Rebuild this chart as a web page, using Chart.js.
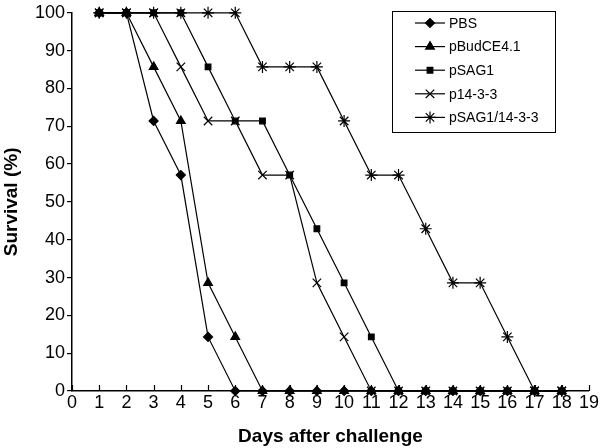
<!DOCTYPE html>
<html>
<head>
<meta charset="utf-8">
<script src="https://cdn.jsdelivr.net/npm/chart.js@4/dist/chart.umd.min.js"></script>
<style>
  html, body { margin: 0; padding: 0; background: #fff; }
  #wrap { width: 600px; height: 448px; }
</style>
</head>
<body>
<div id="wrap"><canvas id="chart"></canvas></div>
<script>
// days after challenge
const days = [1, 2, 3, 4, 5, 6, 7, 8, 9, 10, 11, 12, 13, 14, 15, 16, 17, 18];

// survival (%) per group
const pbs      = [100, 100, 71.4, 57.1, 14.3, 0, 0, 0, 0, 0, 0, 0, 0, 0, 0, 0, 0, 0];
const pbud     = [100, 100, 85.7, 71.4, 28.6, 14.3, 0, 0, 0, 0, 0, 0, 0, 0, 0, 0, 0, 0];
const psag1    = [100, 100, 100, 100, 85.7, 71.4, 71.4, 57.1, 42.9, 28.6, 14.3, 0, 0, 0, 0, 0, 0, 0];
const p1433    = [100, 100, 100, 85.7, 71.4, 71.4, 57.1, 57.1, 28.6, 14.3, 0, 0, 0, 0, 0, 0, 0, 0];
const psag1433 = [100, 100, 100, 100, 100, 100, 85.7, 85.7, 85.7, 71.4, 57.1, 57.1, 42.9, 28.6, 28.6, 14.3, 0, 0];

const labels = ["PBS", "pBudCE4.1", "pSAG1", "p14-3-3", "pSAG1/14-3-3"];
const series = [pbs, pbud, psag1, p1433, psag1433];
const markers = ["rectRot", "triangle", "rect", "crossRot", "star"];
const radii = [4.5, 5, 4, 6, 6];

const yTicks = [0, 10, 20, 30, 40, 50, 60, 70, 80, 90, 100];
const xTicks = [0, 1, 2, 3, 4, 5, 6, 7, 8, 9, 10, 11, 12, 13, 14, 15, 16, 17, 18, 19];

const FONT = "'Liberation Sans', Arial, sans-serif";

function pts(vals) {
  return days.map((d, i) => ({ x: d, y: vals[i] }));
}

const datasets = series.map((s, i) => ({
  label: labels[i],
  data: pts(s),
  borderColor: "#000",
  backgroundColor: "#000",
  borderWidth: 1.2,
  pointStyle: markers[i],
  pointRadius: radii[i],
  pointBorderWidth: 1.2,
  pointBorderColor: "#000",
  pointBackgroundColor: "#000",
  tension: 0,
  fill: false,
  clip: false
}));

// inward ticks on the x axis
const xTickMarks = {
  id: "xTickMarks",
  afterDraw(chart) {
    const ctx = chart.ctx;
    const xs = chart.scales.x;
    const bottom = chart.chartArea.bottom;
    ctx.save();
    ctx.strokeStyle = "#000";
    ctx.lineWidth = 1.2;
    xTicks.forEach(t => {
      const px = Math.round(xs.getPixelForValue(t)) + 0.5;
      ctx.beginPath();
      ctx.moveTo(px, bottom);
      ctx.lineTo(px, bottom - 6);
      ctx.stroke();
    });
    ctx.restore();
  }
};

// legend box with line + marker, drawn inside plot area
const boxLegend = {
  id: "boxLegend",
  afterDraw(chart) {
    const ctx = chart.ctx;
    const left = 392, top = 11, w = 163, h = 121;
    ctx.save();
    ctx.fillStyle = "#fff";
    ctx.fillRect(left, top, w, h);
    ctx.strokeStyle = "#000";
    ctx.lineWidth = 1;
    ctx.strokeRect(left + 0.5, top + 0.5, w, h);
    ctx.font = "14px " + FONT;
    ctx.textBaseline = "middle";
    ctx.fillStyle = "#000";
    labels.forEach((lab, i) => {
      const y = 23 + i * 23.6;
      ctx.lineWidth = 1.2;
      ctx.beginPath();
      ctx.moveTo(415, y);
      ctx.lineTo(445, y);
      ctx.stroke();
      Chart.helpers.drawPoint(ctx, {
        pointStyle: markers[i], radius: radii[i], rotation: 0, borderWidth: 1.2
      }, 430, y);
      ctx.fillText(lab, 449, y + 1);
    });
    ctx.restore();
  }
};

new Chart(document.getElementById("chart"), {
  type: "line",
  data: { datasets },
  options: {
    responsive: true,
    maintainAspectRatio: false,
    animation: false,
    layout: { padding: { top: 11, right: 10, left: 0, bottom: 0 } },
    plugins: {
      legend: { display: false },
      tooltip: { enabled: false }
    },
    scales: {
      x: {
        type: "linear",
        min: 0,
        max: 19,
        afterBuildTicks: s => { s.ticks = xTicks.map(v => ({ value: v })); },
        afterFit: s => { s.height = 57; },
        grid: { display: true, drawOnChartArea: false, drawTicks: false },
        border: { color: "#000", width: 1.5 },
        ticks: { color: "#000", font: { family: FONT, size: 18 }, padding: 1, maxRotation: 0, autoSkip: false },
        title: {
          display: true,
          text: "Days after challenge",
          color: "#000",
          font: { family: FONT, size: 19, weight: "bold" },
          padding: { top: 4, bottom: 0 }
        }
      },
      y: {
        min: 0,
        max: 100,
        afterBuildTicks: s => { s.ticks = yTicks.map(v => ({ value: v })); },
        afterFit: s => { s.width = 72; },
        grid: { display: true, drawOnChartArea: false, drawTicks: true, tickLength: 5, color: "#000", lineWidth: 1.2 },
        border: { color: "#000", width: 1.5 },
        ticks: { color: "#000", font: { family: FONT, size: 18 }, padding: 2 },
        title: {
          display: true,
          text: "Survival (%)",
          color: "#000",
          font: { family: FONT, size: 19, weight: "bold" },
          padding: { top: 0, bottom: 2 }
        }
      }
    }
  },
  plugins: [xTickMarks, boxLegend]
});
</script>
</body>
</html>
